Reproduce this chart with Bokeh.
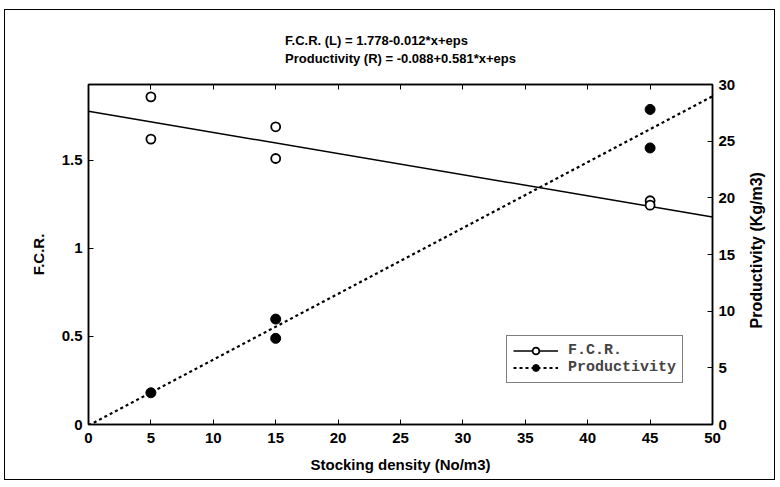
import math
from bokeh.plotting import figure
from bokeh.models import (LinearAxis, Range1d, Legend, LegendItem, Title,
                          CustomJSTickFormatter)
from bokeh.embed import file_html
from bokeh.resources import INLINE

# ---- data ----
fcr_x = [5, 5, 15, 15, 45, 45]
fcr_y = [1.86, 1.62, 1.69, 1.51, 1.27, 1.245]
prod_x = [5, 15, 15, 45, 45]
prod_y = [2.8, 9.3, 7.6, 27.8, 24.4]
fcr_coef = [1.778, -0.012]     # intercept, slope
prod_coef = [-0.088, 0.581]
fit_x = [0, 50]
title_lines = ["F.C.R. (L) = 1.778-0.012*x+eps",
               "Productivity (R) = -0.088+0.581*x+eps"]
x_ticks = [0, 5, 10, 15, 20, 25, 30, 35, 40, 45, 50]
left_ticks = [0, 0.5, 1, 1.5]
right_ticks = [0, 5, 10, 15, 20, 25, 30]
right_label = "Productivity (Kg/m3)"

fcr_fit = [fcr_coef[0] + fcr_coef[1] * v for v in fit_x]
prod_fit = [prod_coef[0] + prod_coef[1] * v for v in fit_x]

FONT = "Liberation Sans"

p = figure(width=771, height=471, output_backend="svg", toolbar_location=None,
           x_range=Range1d(0, 50), y_range=Range1d(0, 1.93),
           min_border_left=83, min_border_right=63,
           min_border_top=74, min_border_bottom=57,
           x_axis_type=None, y_axis_type=None, title=None)
p.styles = {"border": "1px solid black", "margin": "9px 0px 0px 4px"}
p.extra_y_ranges = {"prod": Range1d(0, 30)}
p.xgrid.visible = False
p.ygrid.visible = False
p.outline_line_color = "black"
p.outline_line_width = 1.5
p.background_fill_color = "white"
p.border_fill_color = "white"


def style_axis(ax, size="15px"):
    ax.axis_line_color = "black"
    ax.axis_line_width = 1.5
    ax.major_tick_in = 5
    ax.major_tick_out = 0
    ax.minor_tick_in = 3
    ax.minor_tick_out = 0
    ax.major_tick_line_color = "black"
    ax.minor_tick_line_color = "black"
    ax.major_label_text_font = FONT
    ax.major_label_text_font_style = "bold"
    ax.major_label_text_font_size = size
    ax.major_label_text_color = "black"
    ax.axis_label_text_font = FONT
    ax.axis_label_text_font_style = "bold"
    ax.axis_label_text_font_size = "15px"
    ax.axis_label_text_color = "black"


xax = LinearAxis(axis_label="Stocking density (No/m3)")
xax.ticker = x_ticks
xax.ticker.num_minor_ticks = 2
style_axis(xax)
xax.major_label_standoff = 8
xax.axis_label_standoff = 10
p.add_layout(xax, "below")

top = LinearAxis()
top.ticker = x_ticks
top.ticker.num_minor_ticks = 2
style_axis(top)
top.formatter = CustomJSTickFormatter(code="return ''")
top.major_label_standoff = 0
p.add_layout(top, "above")

yl = LinearAxis(axis_label="F.C.R.")
yl.ticker = left_ticks
yl.ticker.num_minor_ticks = 5
style_axis(yl)
yl.major_label_standoff = 6
yl.axis_label_standoff = 12
p.add_layout(yl, "left")

# right axis: label reads bottom-to-top; it is anchored at the axis start,
# so a few em spaces lift it to the middle of the axis
yr = LinearAxis(y_range_name="prod", axis_label="\u2003" * 6 + right_label)
yr.ticker = right_ticks
yr.ticker.num_minor_ticks = 5
style_axis(yr)
yr.axis_label_text_font_size = "16px"
yr.major_label_standoff = 6
yr.axis_label_standoff = 18
props = yr.properties()
if "axis_label_orientation" in props:
    yr.axis_label_orientation = math.pi / 2
if "axis_label_align" in props:
    yr.axis_label_align = "start"
p.add_layout(yr, "right")

# two-line title above the frame
p.add_layout(Title(text="\n".join(title_lines), align="center",
                   text_font=FONT, text_font_style="bold",
                   text_font_size="13px", text_color="black",
                   text_line_height=1.2, standoff=38), "above")

# regression lines
l_fcr = p.line(fit_x, fcr_fit, line_color="black", line_width=1.5)
l_prod = p.line(fit_x, prod_fit, line_color="black", line_width=2.2,
                line_dash="3 3", y_range_name="prod")

s_fcr = p.scatter(fcr_x, fcr_y, marker="circle", size=9, fill_color="white",
                  line_color="black", line_width=1.8)
s_prod = p.scatter(prod_x, prod_y, marker="circle", size=10, fill_color="black",
                   line_color="black", y_range_name="prod")

legend = Legend(items=[LegendItem(label="F.C.R.", renderers=[l_fcr, s_fcr]),
                       LegendItem(label="Productivity", renderers=[l_prod, s_prod])],
                location=(418, 41))
legend.label_text_font = "Liberation Mono"
legend.label_text_font_style = "bold"
legend.label_text_font_size = "15px"
legend.border_line_color = "black"
legend.border_line_width = 1.5
legend.background_fill_alpha = 1
legend.padding = 6
legend.spacing = 0
legend.glyph_width = 45
legend.glyph_height = 17
legend.label_height = 17
legend.label_standoff = 10
legend.margin = 0
p.add_layout(legend, "center")

open("out.html", "w").write(file_html(p, INLINE))
